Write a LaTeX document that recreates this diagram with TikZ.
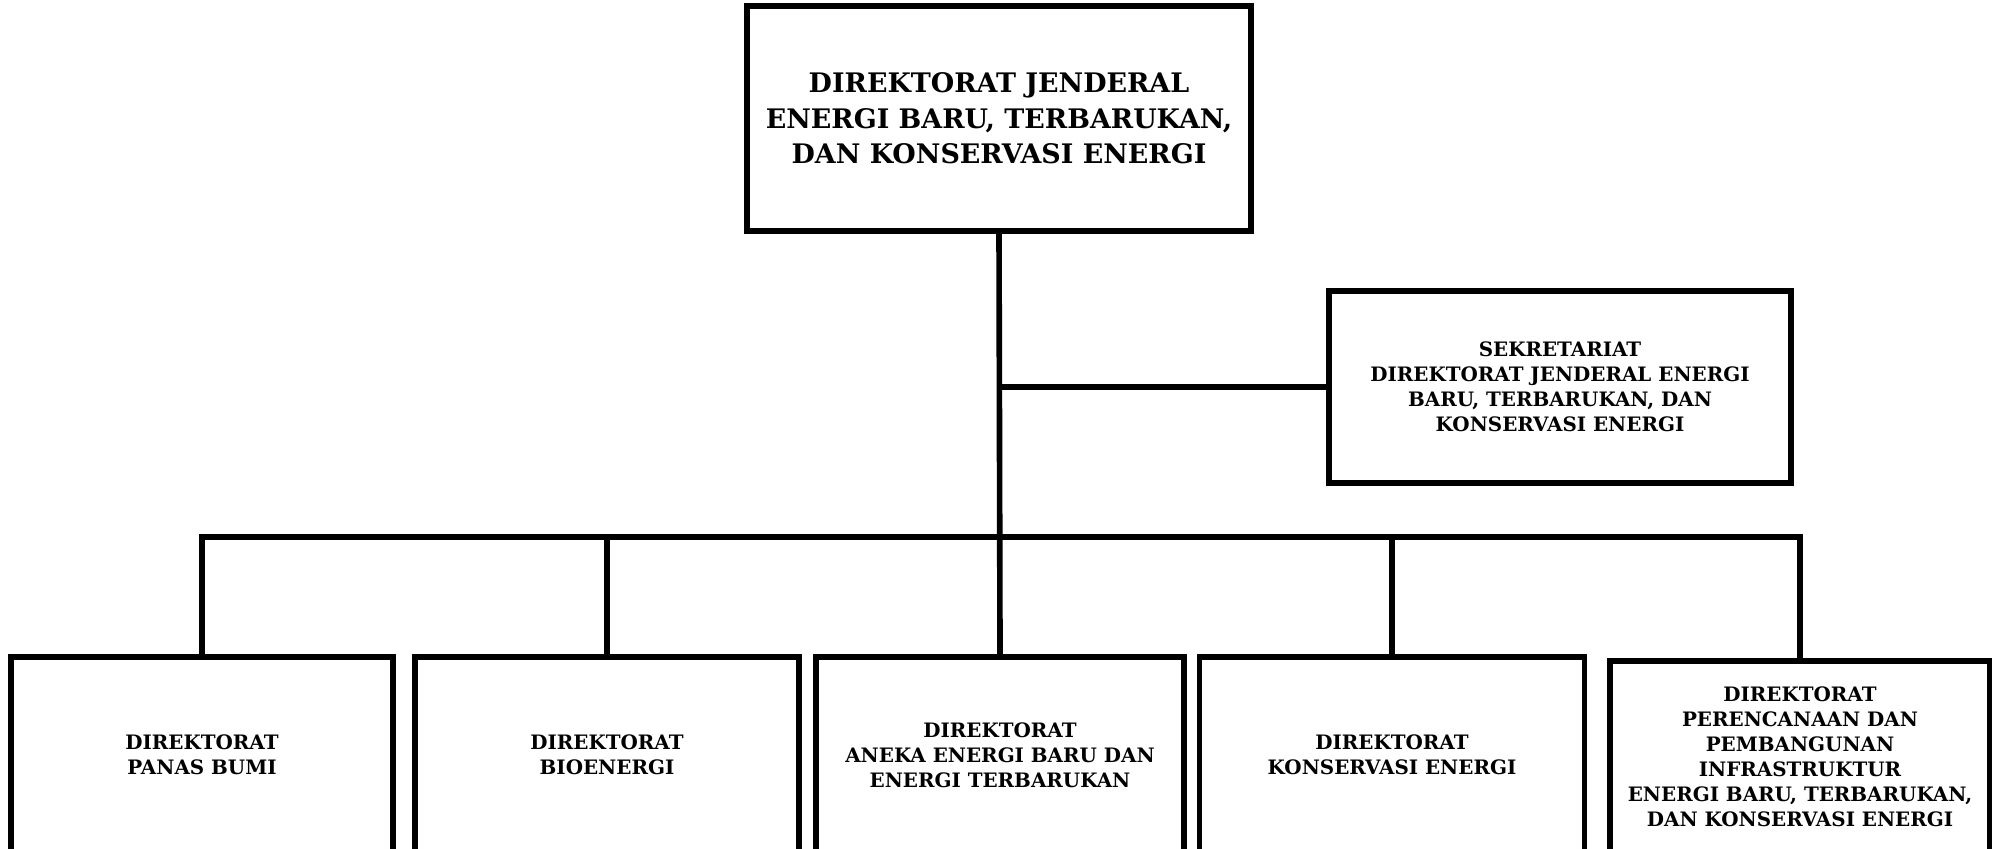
\documentclass[tikz,border=0pt]{standalone}
\usepackage{fontspec}
\setmainfont{DejaVu Serif}
\begin{document}
\begin{tikzpicture}[x=0.01cm,y=-0.01cm,
  conn/.style={line width=1.6pt},
  orgbox/.style={draw,line width=1.6pt,rectangle,align=center,inner sep=0pt,font=\bfseries\fontsize{5.65}{7.1}\selectfont},
  bigbox/.style={orgbox,font=\bfseries\fontsize{7.65}{10.1}\selectfont}]
\useasboundingbox (0,0) rectangle (1992,848);
\node[bigbox,minimum width=50.4mm,minimum height=22.5mm] (top) at (999,118.5)
  {DIREKTORAT JENDERAL\\ENERGI BARU, TERBARUKAN,\\DAN KONSERVASI ENERGI};
\node[orgbox,minimum width=46.2mm,minimum height=19.2mm] (sec) at (1560,387)
  {SEKRETARIAT\\DIREKTORAT JENDERAL ENERGI\\BARU, TERBARUKAN, DAN\\KONSERVASI ENERGI};
\node[orgbox,minimum width=38.2mm,minimum height=19.6mm] (b1) at (202,755)
  {DIREKTORAT\\PANAS BUMI};
\node[orgbox,minimum width=38.4mm,minimum height=19.6mm] (b2) at (607,755)
  {DIREKTORAT\\BIOENERGI};
\node[orgbox,minimum width=36.8mm,minimum height=19.6mm] (b3) at (1000,755)
  {DIREKTORAT\\ANEKA ENERGI BARU DAN\\ENERGI TERBARUKAN};
\node[orgbox,minimum width=38.5mm,minimum height=19.6mm] (b4) at (1392,755)
  {DIREKTORAT\\KONSERVASI ENERGI};
\node[orgbox,minimum width=38.0mm,minimum height=19.2mm] (b5) at (1800,757)
  {DIREKTORAT\\PERENCANAAN DAN\\PEMBANGUNAN\\INFRASTRUKTUR\\ENERGI BARU, TERBARUKAN,\\DAN KONSERVASI ENERGI};
\coordinate (bus) at (1000,537);
\draw[conn] (top.south) -- (b3.north);
\draw[conn] (top.south |- sec.west) -- (sec.west);
\draw[conn] (b1.north) |- (bus) -| (b5.north);
\draw[conn] (b2.north) -- (b2.north |- bus);
\draw[conn] (b4.north) -- (b4.north |- bus);
\end{tikzpicture}
\end{document}
